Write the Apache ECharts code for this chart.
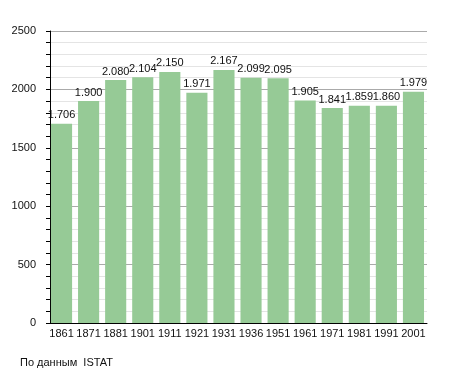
<!DOCTYPE html>
<html><head><meta charset="utf-8">
<script src="https://cdn.jsdelivr.net/npm/echarts@6/dist/echarts.min.js"></script>
<style>html,body{margin:0;padding:0;background:#fff}#c{width:455px;height:373px}</style>
</head><body><div id="c"></div>
<script>
const years = ['1861','1871','1881','1901','1911','1921','1931','1936','1951','1961','1971','1981','1991','2001'];
const population = [1706,1900,2080,2104,2150,1971,2167,2099,2095,1905,1841,1859,1860,1979];
const yTicks = [0,500,1000,1500,2000,2500];
const sourceNote = 'По данным  ISTAT';

const chart = echarts.init(document.getElementById('c'), null, {renderer:'canvas'});
const font = 'Liberation Sans, Arial, sans-serif';
chart.setOption({
  animation:false,
  textStyle:{fontFamily:font},
  grid:{left:48, right:28, top:31, bottom:50},
  xAxis:{
    type:'category', data:years,
    axisLine:{lineStyle:{color:'#000', width:1}},
    axisTick:{show:false},
    axisLabel:{color:'#111', fontSize:11, margin:5, interval:0, fontFamily:font}
  },
  yAxis:{
    type:'value', min:yTicks[0], max:yTicks[yTicks.length-1], interval:500, offset:-2,
    axisLine:{show:true, lineStyle:{color:'#000', width:1}},
    axisTick:{show:true, length:4, lineStyle:{color:'#000'}},
    minorTick:{show:true, splitNumber:5, length:4, lineStyle:{color:'#000'}},
    axisLabel:{color:'#111', fontSize:11, margin:14, fontFamily:font, formatter:v=>String(v)},
    splitLine:{show:true, lineStyle:{color:'#aaa', width:1}},
    minorSplitLine:{show:true, lineStyle:{color:'#e4e4e4', width:1}}
  },
  series:[{
    type:'bar', data:population, barCategoryGap:'22%',
    itemStyle:{color:'#96ca96'},
    label:{show:true, position:'top', distance:3, color:'#111', fontSize:11, fontFamily:font,
      formatter:p=>String(p.value).replace(/\B(?=(\d{3})+(?!\d))/g,'.')}
  }],
  graphic:[{type:'text', left:20, top:357, style:{text:sourceNote, fontSize:11, fontFamily:font, fill:'#111'}}]
});
</script></body></html>
